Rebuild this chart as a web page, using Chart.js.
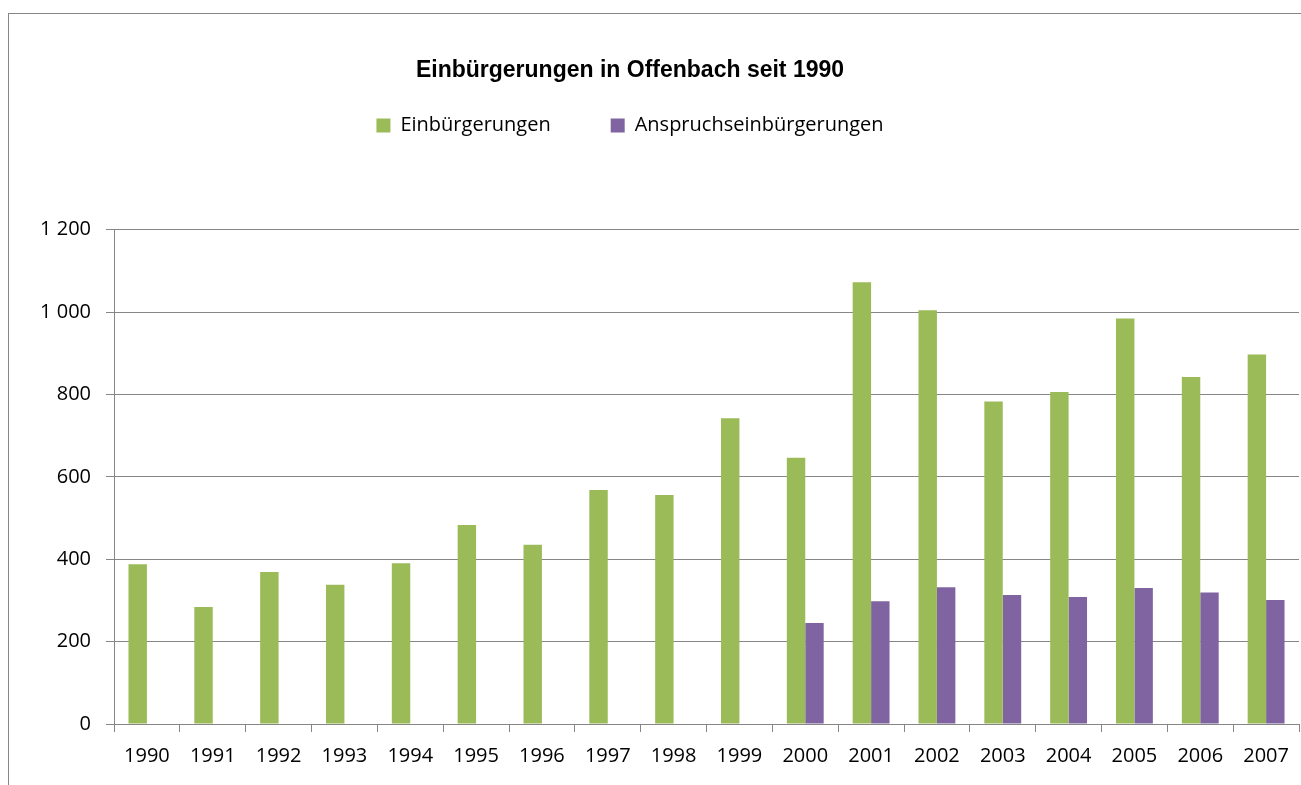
<!DOCTYPE html>
<html>
<head>
<meta charset="utf-8">
<script src="https://cdn.jsdelivr.net/npm/chart.js@4"></script>
<style>
  html, body { margin: 0; padding: 0; background: #fff; overflow: hidden; }
  #wrap { position: relative; width: 1301px; height: 785px; overflow: hidden; }
  #chart { position: absolute; left: -40px; top: 0; }
  #frame { position: absolute; left: 8px; top: 13px; width: 1400px; height: 900px; border: 1px solid #868686; pointer-events: none; }
</style>
</head>
<body>
<div id="wrap">
  <canvas id="chart" width="1341" height="785"></canvas>
  <div id="frame"></div>
</div>
<script>
const years = ['1990', '1991', '1992', '1993', '1994', '1995', '1996', '1997', '1998',
               '1999', '2000', '2001', '2002', '2003', '2004', '2005', '2006', '2007'];
const einbuergerungen = [388, 284, 369, 338, 390, 483, 435, 568, 556, 742, 646, 1072, 1004, 783, 806, 984, 842, 897];
const anspruch = [null, null, null, null, null, null, null, null, null, null, 245, 298, 332, 313, 308, 330, 319, 301];
const yTickLabels = ['0', '200', '400', '600', '800', '1 000', '1 200'];

const axisGray = '#868686';
const labelFont = { family: 'Open Sans', size: 20 };

new Chart(document.getElementById('chart'), {
    type: 'bar',
    data: {
        labels: years,
        datasets: [
            { label: 'Einbürgerungen', data: einbuergerungen, backgroundColor: '#9BBB59', borderWidth: 0 },
            { label: 'Anspruchseinbürgerungen', data: anspruch, backgroundColor: '#8064A2', borderWidth: 0 }
        ]
    },
    options: {
        responsive: false,
        devicePixelRatio: 1,
        animation: false,
        categoryPercentage: 0.56,
        barPercentage: 1,
        layout: { padding: { top: 0, right: 1, bottom: 0, left: 0 } },
        plugins: {
            tooltip: { enabled: false },
            title: {
                display: true,
                text: 'Einbürgerungen in Offenbach seit 1990',
                color: '#000',
                font: { family: 'Liberation Sans', size: 23, weight: 'bold' },
                padding: { top: 57, bottom: -29 }
            },
            subtitle: {
                // empty spacer between legend and plot
                display: true,
                text: '',
                weight: 500,
                font: { size: 10 },
                padding: { top: 0, bottom: 72 }
            },
            legend: {
                position: 'top',
                labels: {
                    color: '#000',
                    font: labelFont,
                    boxWidth: 14,
                    boxHeight: 14,
                    padding: 60
                }
            }
        },
        scales: {
            x: {
                grid: { display: true, drawOnChartArea: false, drawTicks: true, tickLength: 8, color: axisGray, offset: true },
                border: { display: true, color: axisGray },
                ticks: { color: '#000', font: labelFont, padding: 12, maxRotation: 0, autoSkip: false },
                afterFit: (axis) => { axis.height = 61; }
            },
            y: {
                min: 0,
                max: 1200,
                grid: { color: axisGray, tickLength: 8 },
                border: { display: true, color: axisGray },
                ticks: {
                    stepSize: 200,
                    color: '#000',
                    font: labelFont,
                    padding: 15,
                    callback: (v, i) => yTickLabels[i]
                },
                afterFit: (axis) => { axis.width = 154; }
            }
        }
    }
});
</script>
</body>
</html>
